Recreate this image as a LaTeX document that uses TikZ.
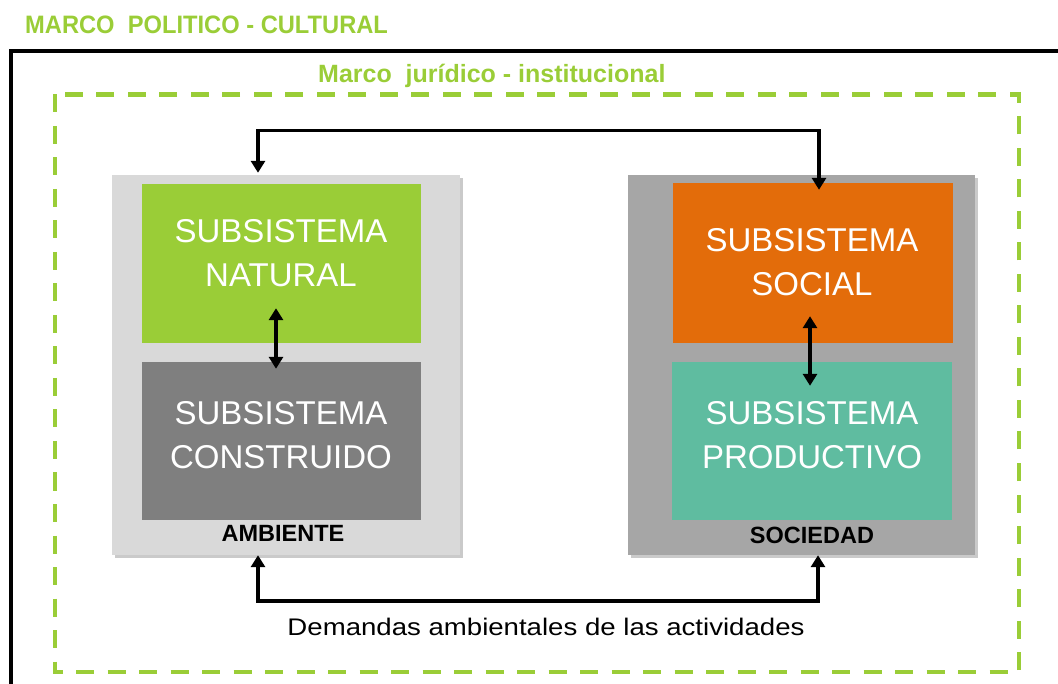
\documentclass[tikz,border=0pt]{standalone}
\usepackage{fontspec}
\setmainfont{Liberation Sans}
\newfontfamily\titlefont[FakeStretch=0.94]{Liberation Sans}
\newfontfamily\wideFont[FakeStretch=1.15]{Liberation Sans}
\usetikzlibrary{arrows.meta,shadows,calc}
\definecolor{mgreen}{HTML}{9ACD37}
\definecolor{lgray}{HTML}{D9D9D9}
\definecolor{mgray}{HTML}{A6A6A6}
\definecolor{dgray}{HTML}{7F7F7F}
\definecolor{morange}{HTML}{E36C0A}
\definecolor{mteal}{HTML}{5FBCA0}
\tikzset{
  outerbox/.style={draw=none, inner sep=0pt, minimum width=348pt, minimum height=380pt,
    drop shadow={shadow xshift=3pt, shadow yshift=-3pt, opacity=0.35, fill=black!60}},
  subbox/.style={draw=none, inner sep=0pt, minimum width=279pt, minimum height=159pt},
  subtext/.style={text=white, align=center, font=\fontsize{33}{44}\selectfont},
  grouplabel/.style={font=\bfseries\fontsize{23.5}{28}\selectfont, text=black},
  conn/.style={line width=3.4pt, {Triangle[length=12pt,width=14pt]}-{Triangle[length=12pt,width=14pt]}},
}
\begin{document}
\begin{tikzpicture}[x=1pt,y=-1pt]
\useasboundingbox (0,0) rectangle (1058,684);
\begin{scope}
\clip (0,0) rectangle (1058,684);
\draw[line width=3.5pt, black] (11,51) rectangle (1080,720);
\end{scope}
\draw[mgreen, line width=4.2pt, dash pattern=on 18pt off 13.5pt] (55,94.5) rectangle (1019,672);

\node[anchor=base west, text=mgreen, font=\titlefont\bfseries\fontsize{25.2}{28}\selectfont, inner sep=0pt] (t1) at (25,34) {MARCO\ \ POLITICO - CULTURAL};
\node[anchor=base west, text=mgreen, font=\bfseries\fontsize{25}{28}\selectfont, inner sep=0pt] (t2) at (318,83) {Marco\ \ jurídico - institucional};

% groups
\node[outerbox, fill=lgray] (ambiente) at (286,365) {};
\node[outerbox, fill=mgray, minimum width=347pt] (sociedad) at (801.5,365) {};

\node[subbox, fill=mgreen] (natural) at (281.5,263.5) {};
\node[subbox, fill=dgray, minimum height=158pt] (construido) at (281.5,441) {};
\node[subbox, fill=morange, minimum width=280pt, minimum height=160pt] (social) at (813,263) {};
\node[subbox, fill=mteal, minimum width=280pt, minimum height=158pt] (productivo) at (812,441) {};

\node[subtext] (natT) at (281,253) {SUBSISTEMA\\NATURAL};
\node[subtext] (conT) at (281,435) {SUBSISTEMA\\CONSTRUIDO};
\node[subtext] (socT) at (812,262.5) {SUBSISTEMA\\SOCIAL};
\node[subtext] (proT) at (812,435) {SUBSISTEMA\\PRODUCTIVO};

\node[grouplabel] (ambL) at (283,533) {AMBIENTE};
\node[grouplabel] (socL) at (812,535) {SOCIEDAD};

% connectors
\coordinate (topc) at (540,130.5);
\coordinate (botc) at (540,601);
\draw[conn] ([xshift=-28pt,yshift=2pt]ambiente.north) |- (topc) -| ([xshift=6pt,yshift=-7pt]social.north);
\draw[conn] ([xshift=-28pt]ambiente.south) |- (botc) -| ([xshift=16.5pt]sociedad.south);
\draw[conn] ([xshift=-5.5pt,yshift=35pt]natural.south) -- ([xshift=-5.5pt,yshift=-7pt]construido.north);
\draw[conn] ([xshift=-3pt,yshift=27pt]social.south) -- ([xshift=-2pt,yshift=-24pt]productivo.north);

\node[font=\wideFont\fontsize{24}{28}\selectfont] (dem) at (546,627) {Demandas ambientales de las actividades};
\end{tikzpicture}
\end{document}
